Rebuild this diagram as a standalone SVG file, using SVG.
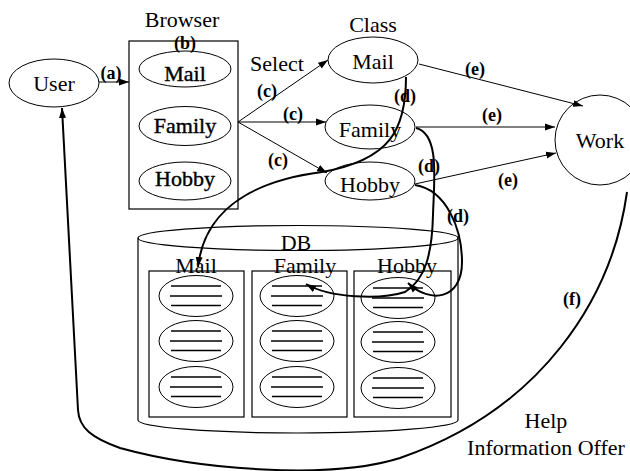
<svg xmlns="http://www.w3.org/2000/svg" width="630" height="471" viewBox="0 0 630 471">
  <defs>
    <marker id="arrow" markerUnits="userSpaceOnUse" markerWidth="11" markerHeight="8" refX="10" refY="4" orient="auto">
      <path d="M0,0.5 L10,4 L0,7.5 z" fill="#000"/>
    </marker>
    <style>
      .shape { fill: #fff; stroke: #000; stroke-width: 1; }
      .frame { fill: none; stroke: #000; stroke-width: 1.2; }
      .txt { font-family: "Liberation Serif", "Times New Roman", serif; font-size: 22px; fill: #000; text-anchor: middle; }
      .lbl { font-family: "Liberation Serif", "Times New Roman", serif; font-size: 18px; font-weight: bold; fill: #000; text-anchor: middle; }
      .heavy { stroke: #000; stroke-width: 0.4; }
      .thin { fill: none; stroke: #000; stroke-width: 1; marker-end: url(#arrow); }
      .thick { fill: none; stroke: #000; stroke-width: 2; marker-end: url(#arrow); }
      .rule { stroke: #000; stroke-width: 1.4; }
    </style>
    <!-- one record: an ellipse holding three text lines -->
    <g id="record">
      <ellipse cx="0" cy="0" rx="37" ry="20.5" class="shape"/>
      <line x1="-25" y1="-10" x2="25" y2="-10" class="rule"/>
      <line x1="-26" y1="0" x2="26" y2="0" class="rule"/>
      <line x1="-25" y1="9.5" x2="25" y2="9.5" class="rule"/>
    </g>
  </defs>

  <rect x="0" y="0" width="630" height="471" fill="#fff"/>

  <!-- DB cylinder -->
  <g id="db">
    <path d="M138,238 L138,420 A160,13 0 0 0 458,420 L458,238" class="frame"/>
    <ellipse cx="298" cy="238" rx="160" ry="12.5" class="frame"/>
    <text x="296" y="250" class="txt" font-size="20">DB</text>
    <g id="db-mail">
      <text x="196" y="273" class="txt">Mail</text>
      <rect x="149" y="271" width="95" height="146" class="frame"/>
      <use href="#record" x="196" y="296"/>
      <use href="#record" x="196" y="341"/>
      <use href="#record" x="196" y="387"/>
    </g>
    <g id="db-family">
      <text x="305" y="273" class="txt">Family</text>
      <rect x="252" y="271" width="95" height="146" class="frame"/>
      <use href="#record" x="297" y="296"/>
      <use href="#record" x="297" y="341"/>
      <use href="#record" x="297" y="387"/>
    </g>
    <g id="db-hobby">
      <text x="407" y="273" class="txt">Hobby</text>
      <rect x="354" y="271" width="97" height="146" class="frame"/>
      <use href="#record" x="398" y="298"/>
      <use href="#record" x="398" y="342"/>
      <use href="#record" x="398" y="388"/>
    </g>
  </g>

  <!-- User -->
  <g id="user">
    <ellipse cx="54" cy="83" rx="45" ry="24" class="shape"/>
    <text x="54" y="91" class="txt">User</text>
  </g>

  <!-- Browser -->
  <g id="browser">
    <text x="182" y="27" class="txt">Browser</text>
    <rect x="129" y="41" width="109" height="168" class="frame"/>
    <ellipse cx="185" cy="69" rx="46" ry="18" class="shape" stroke-width="1.3"/>
    <text x="185" y="81" class="txt heavy">Mail</text>
    <ellipse cx="185" cy="126" rx="46" ry="19.5" class="shape" stroke-width="1.3"/>
    <text x="185" y="133" class="txt heavy">Family</text>
    <ellipse cx="185" cy="181" rx="46" ry="19" class="shape" stroke-width="1.3"/>
    <text x="185" y="186" class="txt heavy">Hobby</text>
  </g>

  <!-- Class -->
  <g id="class">
    <text x="373" y="32" class="txt">Class</text>
    <g id="class-mail">
      <ellipse cx="373" cy="60" rx="45" ry="23" class="shape"/>
      <text x="373" y="69" class="txt">Mail</text>
    </g>
    <g id="class-family">
      <ellipse cx="370" cy="127" rx="45" ry="22" class="shape"/>
      <text x="370" y="137" class="txt">Family</text>
    </g>
    <g id="class-hobby">
      <ellipse cx="370" cy="181" rx="45" ry="19" class="shape"/>
      <text x="370" y="192" class="txt">Hobby</text>
    </g>
  </g>

  <!-- Work -->
  <g id="work">
    <circle cx="600" cy="140" r="45" class="shape"/>
    <text x="600" y="148" class="txt">Work</text>
  </g>

  <!-- connectors -->
  <g id="connectors">
    <!-- (a) -->
    <line x1="99" y1="82" x2="129" y2="82" class="thin"/>
    <!-- (c) select -->
    <line x1="238" y1="122" x2="328" y2="60" class="thin"/>
    <line x1="238" y1="122" x2="326" y2="122" class="thin"/>
    <line x1="238" y1="122" x2="327" y2="173" class="thin"/>
    <!-- (e) to Work -->
    <line x1="419" y1="64" x2="583" y2="106" class="thin"/>
    <line x1="416" y1="127" x2="555" y2="127" class="thin"/>
    <line x1="415" y1="184" x2="556" y2="153" class="thin"/>
    <!-- (d) to DB -->
    <path d="M406,77 C406,130 390,160 322,172 C260,180 205,205 198,267" class="thick"/>
    <path d="M416,128 C440,134 434,180 433,215 C432,255 425,280 405,292 C380,300 330,298 306,284" class="thick"/>
    <path d="M415,185 C447,190 462,230 462,262 C462,300 430,304 408,283" class="thick"/>
    <!-- (f) help back to User -->
    <path d="M627,192 C612,300 540,410 400,458 C330,480 200,470 120,448 C92,438 79,428 78,410 L62,108" class="thick" stroke-width="1.6"/>
  </g>

  <!-- labels -->
  <g id="labels">
    <text x="277" y="71" class="txt">Select</text>
    <text x="111" y="79" class="lbl">(a)</text>
    <text x="185" y="49" class="lbl">(b)</text>
    <text x="267" y="97" class="lbl">(c)</text>
    <text x="293" y="120" class="lbl">(c)</text>
    <text x="278" y="166" class="lbl">(c)</text>
    <text x="405" y="102" class="lbl">(d)</text>
    <text x="429" y="172" class="lbl">(d)</text>
    <text x="458" y="222" class="lbl">(d)</text>
    <text x="475" y="75" class="lbl">(e)</text>
    <text x="492" y="121" class="lbl">(e)</text>
    <text x="508" y="186" class="lbl">(e)</text>
    <text x="572" y="305" class="lbl">(f)</text>
    <text x="546" y="428" class="txt">Help</text>
    <text x="546" y="455" class="txt">Information Offer</text>
  </g>
</svg>
